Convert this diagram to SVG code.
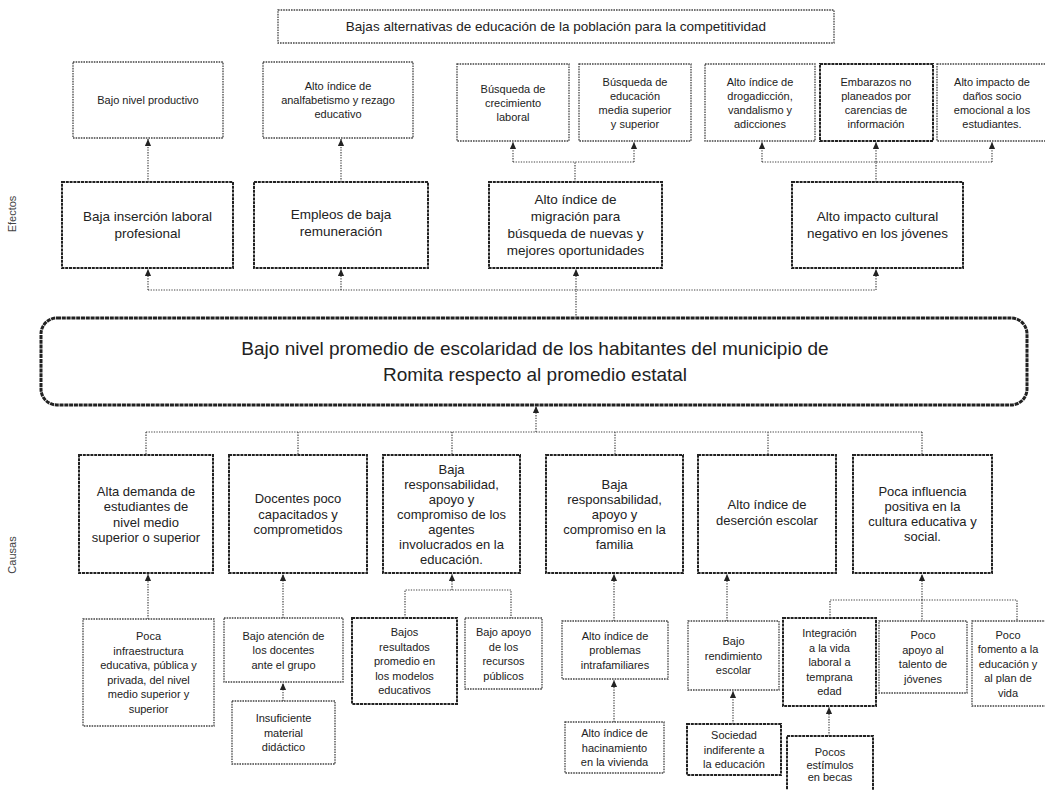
<svg xmlns="http://www.w3.org/2000/svg" width="1045" height="790" viewBox="0 0 1045 790">
<defs>
<style>
.t{font-family:"Liberation Sans",Arial,sans-serif;fill:#222;text-anchor:middle}
.f11{font-size:11px}
.f13{font-size:13px}
.f135{font-size:13.5px}
.f19{font-size:19px}
.thin{fill:#fff;stroke:#444;stroke-width:1.3;stroke-dasharray:1.6 1}
.bold{fill:#fff;stroke:#222;stroke-width:2;stroke-dasharray:3 0.8}
.mainbx{fill:#fff;stroke:#222;stroke-width:3;stroke-dasharray:4 0.8}
.c{fill:none;stroke:#444;stroke-width:1.2;stroke-dasharray:1.3 1.3}
.lbl{font-family:"Liberation Sans",Arial,sans-serif;font-size:11px;fill:#444;text-anchor:middle}
</style>
<marker id="ah" viewBox="0 0 8 8" refX="8" refY="4" markerWidth="7" markerHeight="7" markerUnits="userSpaceOnUse" orient="auto">
<path d="M0,0.5 L8,4 L0,7.5 z" fill="#222"/>
</marker>
</defs>
<rect width="1045" height="790" fill="#fff"/>

<text class="lbl" transform="translate(16,214) rotate(-90)">Efectos</text>
<text class="lbl" transform="translate(16,555) rotate(-90)">Causas</text>

<g id="title">
<rect class="thin" x="278" y="10" width="556" height="33"/>
<text class="t f135" x="556" y="31">Bajas alternativas de educación de la población para la competitividad</text>
</g>

<g id="e1"><rect class="thin" x="73" y="62" width="150" height="76"/>
<text class="t f11" x="148" y="104">Bajo nivel productivo</text></g>
<g id="e2"><rect class="thin" x="263" y="62" width="150" height="76"/>
<text class="t f11" x="338" y="90"><tspan x="338">Alto índice de</tspan><tspan x="338" dy="14">analfabetismo  y rezago</tspan><tspan x="338" dy="14">educativo</tspan></text></g>
<g id="e3"><rect class="thin" x="457" y="64" width="112" height="77"/>
<text class="t f11" x="513" y="92.5"><tspan x="513">Búsqueda de</tspan><tspan x="513" dy="14">crecimiento</tspan><tspan x="513" dy="14">laboral</tspan></text></g>
<g id="e4"><rect class="thin" x="579" y="64" width="112" height="77"/>
<text class="t f11" x="635" y="85.5"><tspan x="635">Búsqueda de</tspan><tspan x="635" dy="14">educación</tspan><tspan x="635" dy="14">media superior</tspan><tspan x="635" dy="14">y superior</tspan></text></g>
<g id="e5"><rect class="thin" x="705" y="64" width="110" height="77"/>
<text class="t f11" x="760" y="85.5"><tspan x="760">Alto índice de</tspan><tspan x="760" dy="14">drogadicción,</tspan><tspan x="760" dy="14">vandalismo  y</tspan><tspan x="760" dy="14">adicciones</tspan></text></g>
<g id="e6"><rect class="bold" x="820" y="64" width="113" height="77"/>
<text class="t f11" x="876" y="85.5"><tspan x="876">Embarazos no</tspan><tspan x="876" dy="14">planeados por</tspan><tspan x="876" dy="14">carencias de</tspan><tspan x="876" dy="14">información</tspan></text></g>
<g id="e7"><rect class="thin" x="937" y="64" width="112" height="77"/>
<text class="t f11" x="992" y="85.5"><tspan x="992">Alto impacto de</tspan><tspan x="992" dy="14">daños socio</tspan><tspan x="992" dy="14">emocional a los</tspan><tspan x="992" dy="14">estudiantes.</tspan></text></g>

<g id="ea"><rect class="bold" x="62" y="182" width="171" height="86"/>
<text class="t f135" x="147.5" y="221"><tspan x="147.5">Baja inserción laboral</tspan><tspan x="147.5" dy="17">profesional</tspan></text></g>
<g id="eb"><rect class="bold" x="254" y="182" width="174" height="86"/>
<text class="t f135" x="341" y="219"><tspan x="341">Empleos de baja</tspan><tspan x="341" dy="17">remuneración</tspan></text></g>
<g id="ec"><rect class="bold" x="489" y="182" width="173" height="86"/>
<text class="t f135" x="575.5" y="204"><tspan x="575.5">Alto índice de</tspan><tspan x="575.5" dy="17">migración para</tspan><tspan x="575.5" dy="17">búsqueda de nuevas y</tspan><tspan x="575.5" dy="17">mejores oportunidades</tspan></text></g>
<g id="ed"><rect class="bold" x="792" y="182" width="171" height="86"/>
<text class="t f135" x="877.5" y="221"><tspan x="877.5">Alto impacto cultural</tspan><tspan x="877.5" dy="17">negativo en los jóvenes</tspan></text></g>

<g id="main"><rect class="mainbx" x="41" y="318" width="986" height="87" rx="16"/>
<text class="t f19" x="535" y="355"><tspan x="535">Bajo nivel promedio de escolaridad de los habitantes del municipio de</tspan><tspan x="535" dy="26">Romita respecto al promedio estatal</tspan></text></g>

<g id="c1"><rect class="bold" x="79" y="455" width="134" height="118"/>
<text class="t f13" x="146" y="495.5"><tspan x="146">Alta demanda de</tspan><tspan x="146" dy="15.5">estudiantes de</tspan><tspan x="146" dy="15.5">nivel medio</tspan><tspan x="146" dy="15.5">superior o superior</tspan></text></g>
<g id="c2"><rect class="bold" x="229" y="455" width="138" height="118"/>
<text class="t f13" x="298" y="503"><tspan x="298">Docentes poco</tspan><tspan x="298" dy="15.5">capacitados y</tspan><tspan x="298" dy="15.5">comprometidos</tspan></text></g>
<g id="c3"><rect class="bold" x="383" y="455" width="137" height="118"/>
<text class="t f13" x="451.5" y="473.5"><tspan x="451.5">Baja</tspan><tspan x="451.5" dy="15">responsabilidad,</tspan><tspan x="451.5" dy="15">apoyo y</tspan><tspan x="451.5" dy="15">compromiso de los</tspan><tspan x="451.5" dy="15">agentes</tspan><tspan x="451.5" dy="15">involucrados en la</tspan><tspan x="451.5" dy="15">educación.</tspan></text></g>
<g id="c4"><rect class="bold" x="546" y="455" width="137" height="118"/>
<text class="t f13" x="614.5" y="488.5"><tspan x="614.5">Baja</tspan><tspan x="614.5" dy="15">responsabilidad,</tspan><tspan x="614.5" dy="15">apoyo y</tspan><tspan x="614.5" dy="15">compromiso en la</tspan><tspan x="614.5" dy="15">familia</tspan></text></g>
<g id="c5"><rect class="bold" x="698" y="455" width="138" height="118"/>
<text class="t f13" x="767" y="509"><tspan x="767">Alto índice de</tspan><tspan x="767" dy="15.5">deserción escolar</tspan></text></g>
<g id="c6"><rect class="bold" x="853" y="455" width="139" height="118"/>
<text class="t f13" x="922.5" y="496"><tspan x="922.5">Poca influencia</tspan><tspan x="922.5" dy="15">positiva en la</tspan><tspan x="922.5" dy="15">cultura educativa y</tspan><tspan x="922.5" dy="15">social.</tspan></text></g>

<g id="s1"><rect class="thin" x="83" y="619" width="131" height="107"/>
<text class="t f11" x="148.5" y="640"><tspan x="148.5">Poca</tspan><tspan x="148.5" dy="14.5">infraestructura</tspan><tspan x="148.5" dy="14.5">educativa, pública y</tspan><tspan x="148.5" dy="14.5">privada, del nivel</tspan><tspan x="148.5" dy="14.5">medio superior y</tspan><tspan x="148.5" dy="14.5">superior</tspan></text></g>
<g id="s2"><rect class="thin" x="224" y="618" width="119" height="64"/>
<text class="t f11" x="283.5" y="639.5"><tspan x="283.5">Bajo atención de</tspan><tspan x="283.5" dy="14.5">los docentes</tspan><tspan x="283.5" dy="14.5">ante el grupo</tspan></text></g>
<g id="s3"><rect class="thin" x="232" y="701" width="103" height="63"/>
<text class="t f11" x="283.5" y="722"><tspan x="283.5">Insuficiente</tspan><tspan x="283.5" dy="14.5">material</tspan><tspan x="283.5" dy="14.5">didáctico</tspan></text></g>
<g id="s4"><rect class="bold" x="352" y="618" width="105" height="86"/>
<text class="t f11" x="404.5" y="636"><tspan x="404.5">Bajos</tspan><tspan x="404.5" dy="14.5">resultados</tspan><tspan x="404.5" dy="14.5">promedio en</tspan><tspan x="404.5" dy="14.5">los modelos</tspan><tspan x="404.5" dy="14.5">educativos</tspan></text></g>
<g id="s5"><rect class="thin" x="465" y="618" width="77" height="71"/>
<text class="t f11" x="503.5" y="636"><tspan x="503.5">Bajo apoyo</tspan><tspan x="503.5" dy="14.5">de los</tspan><tspan x="503.5" dy="14.5">recursos</tspan><tspan x="503.5" dy="14.5">públicos</tspan></text></g>
<g id="s6"><rect class="thin" x="562" y="621" width="106" height="58"/>
<text class="t f11" x="615" y="639.5"><tspan x="615">Alto índice de</tspan><tspan x="615" dy="14.5">problemas</tspan><tspan x="615" dy="14.5">intrafamiliares</tspan></text></g>
<g id="s7"><rect class="thin" x="565" y="722" width="99" height="51"/>
<text class="t f11" x="614.5" y="737"><tspan x="614.5">Alto índice de</tspan><tspan x="614.5" dy="14.5">hacinamiento</tspan><tspan x="614.5" dy="14.5">en la vivienda</tspan></text></g>
<g id="s8"><rect class="thin" x="688" y="621" width="91" height="69"/>
<text class="t f11" x="733.5" y="645"><tspan x="733.5">Bajo</tspan><tspan x="733.5" dy="14.5">rendimiento</tspan><tspan x="733.5" dy="14.5">escolar</tspan></text></g>
<g id="s9"><rect class="bold" x="687" y="724" width="94" height="51"/>
<text class="t f11" x="734" y="739"><tspan x="734">Sociedad</tspan><tspan x="734" dy="14.5">indiferente a</tspan><tspan x="734" dy="14.5">la educación</tspan></text></g>
<g id="s10"><rect class="bold" x="783" y="618" width="93" height="88"/>
<text class="t f11" x="829.5" y="637"><tspan x="829.5">Integración</tspan><tspan x="829.5" dy="14.5">a la vida</tspan><tspan x="829.5" dy="14.5">laboral a</tspan><tspan x="829.5" dy="14.5">temprana</tspan><tspan x="829.5" dy="14.5">edad</tspan></text></g>
<g id="s11"><rect class="bold" x="787" y="736" width="86" height="64"/>
<text class="t f11" x="830" y="756"><tspan x="830">Pocos</tspan><tspan x="830" dy="12.5">estímulos</tspan><tspan x="830" dy="12.5">en becas</tspan></text></g>
<g id="s12"><rect class="thin" x="879" y="621" width="88" height="72"/>
<text class="t f11" x="923" y="639"><tspan x="923">Poco</tspan><tspan x="923" dy="14.5">apoyo al</tspan><tspan x="923" dy="14.5">talento de</tspan><tspan x="923" dy="14.5">jóvenes</tspan></text></g>
<g id="s13"><rect class="thin" x="972" y="621" width="96" height="85"/>
<text class="t f11" x="1008" y="638.5"><tspan x="1008">Poco</tspan><tspan x="1008" dy="14.5">fomento a la</tspan><tspan x="1008" dy="14.5">educación y</tspan><tspan x="1008" dy="14.5">al plan de</tspan><tspan x="1008" dy="14.5">vida</tspan></text></g>

<g id="connectors">
<path class="c" d="M148,182 V139" marker-end="url(#ah)"/>
<path class="c" d="M341,182 V139" marker-end="url(#ah)"/>
<path class="c" d="M575,182 V162 M513,162 H634"/>
<path class="c" d="M513,162 V142" marker-end="url(#ah)"/>
<path class="c" d="M634,162 V142" marker-end="url(#ah)"/>
<path class="c" d="M876,182 V162 M762,162 H992"/>
<path class="c" d="M762,162 V142" marker-end="url(#ah)"/>
<path class="c" d="M876,162 V142" marker-end="url(#ah)"/>
<path class="c" d="M992,162 V142" marker-end="url(#ah)"/>
<path class="c" d="M576,318 V290 M148,290 H876"/>
<path class="c" d="M148,290 V269" marker-end="url(#ah)"/>
<path class="c" d="M341,290 V269" marker-end="url(#ah)"/>
<path class="c" d="M576,290 V269" marker-end="url(#ah)"/>
<path class="c" d="M876,290 V269" marker-end="url(#ah)"/>
<path class="c" d="M536,432 V406" marker-end="url(#ah)"/>
<path class="c" d="M146,432 H922 M146,432 V455 M298,432 V455 M452,432 V455 M615,432 V455 M768,432 V455 M922,432 V455"/>
<path class="c" d="M148,619 V574" marker-end="url(#ah)"/>
<path class="c" d="M283,618 V574" marker-end="url(#ah)"/>
<path class="c" d="M283,701 V683" marker-end="url(#ah)"/>
<path class="c" d="M452,590 V574" marker-end="url(#ah)"/>
<path class="c" d="M405,618 V590 H511 V618"/>
<path class="c" d="M614,621 V574" marker-end="url(#ah)"/>
<path class="c" d="M614,722 V680" marker-end="url(#ah)"/>
<path class="c" d="M727,621 V574" marker-end="url(#ah)"/>
<path class="c" d="M733,724 V691" marker-end="url(#ah)"/>
<path class="c" d="M922,600 V574" marker-end="url(#ah)"/>
<path class="c" d="M830,618 V600 H1017 V621 M922,600 V621"/>
<path class="c" d="M829,736 V707" marker-end="url(#ah)"/>
</g>
</svg>
